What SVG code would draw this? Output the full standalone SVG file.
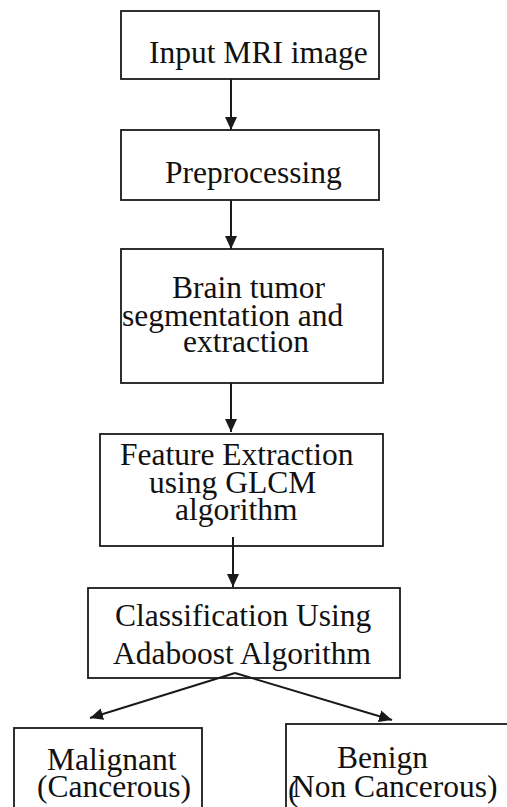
<svg xmlns="http://www.w3.org/2000/svg" width="507" height="807" viewBox="0 0 507 807">
<style>
.box{fill:#fff;stroke:#1a1a1a;stroke-width:1.8}
.t{font-family:"Liberation Serif","Times New Roman",serif;font-size:31.5px;fill:#111}
.c{fill:none;stroke:#1a1a1a;stroke-width:2}
</style>
<defs>
<marker id="ah" markerUnits="userSpaceOnUse" markerWidth="14" markerHeight="14" viewBox="0 0 14 14" refX="13" refY="7" orient="auto">
<path d="M0,1 L13,7 L0,13 Z" fill="#1a1a1a"/>
</marker>
</defs>
<rect width="507" height="807" fill="#fff"/>
<g id="n1"><rect class="box" x="121" y="11" width="258" height="68"/><text class="t" x="149" y="63">Input MRI image</text></g>
<g id="n2"><rect class="box" x="121" y="130" width="258" height="70"/><text class="t" x="165" y="183">Preprocessing</text></g>
<g id="n3"><rect class="box" x="121" y="249" width="262" height="134"/>
<text class="t" x="172" y="298">Brain tumor</text>
<text class="t" x="122" y="326">segmentation and</text>
<text class="t" x="183" y="352">extraction</text></g>
<g id="n4"><rect class="box" x="100" y="434" width="283" height="112"/>
<text class="t" x="120" y="465">Feature Extraction</text>
<text class="t" x="149" y="493">using GLCM</text>
<text class="t" x="175" y="520">algorithm</text></g>
<g id="n5"><rect class="box" x="88" y="588" width="312" height="90"/>
<text class="t" x="115" y="626">Classification Using</text>
<text class="t" x="113" y="664">Adaboost Algorithm</text></g>
<g id="n6"><rect class="box" x="14" y="728" width="188" height="100"/>
<text class="t" x="47" y="770">Malignant</text>
<text class="t" x="37" y="797">(Cancerous)</text></g>
<g id="n7"><rect class="box" x="286" y="724" width="240" height="100"/>
<text class="t" x="337" y="768">Benign</text>
<text class="t" x="288" y="801">(</text>
<text class="t" x="292" y="797">Non Cancerous)</text></g>
<g id="connectors">
<line class="c" x1="231" y1="79" x2="231" y2="130" marker-end="url(#ah)"/>
<line class="c" x1="231" y1="200" x2="231" y2="249" marker-end="url(#ah)"/>
<line class="c" x1="231" y1="383" x2="231" y2="432" marker-end="url(#ah)"/>
<line class="c" x1="233" y1="537" x2="233" y2="587" marker-end="url(#ah)"/>
<line class="c" x1="235" y1="673" x2="90" y2="718" marker-end="url(#ah)"/>
<line class="c" x1="235" y1="673" x2="392" y2="720" marker-end="url(#ah)"/>
</g>
</svg>
